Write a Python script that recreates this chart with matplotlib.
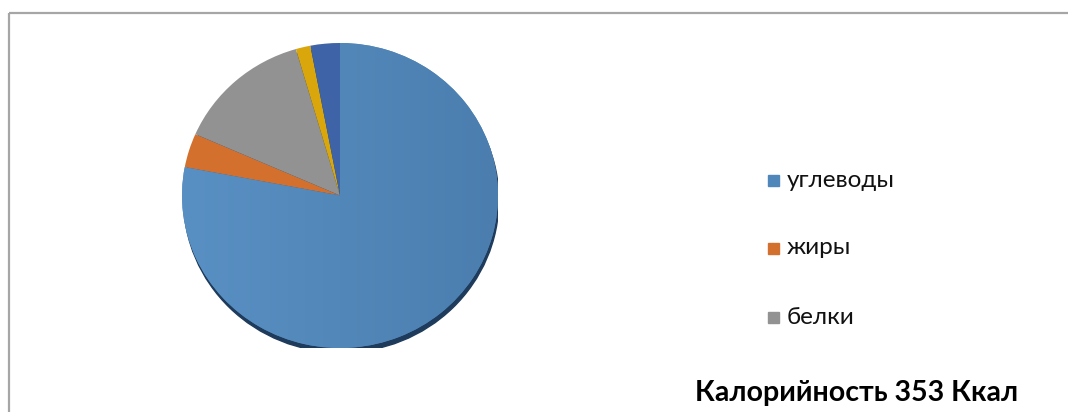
import matplotlib.pyplot as plt
import numpy as np
from matplotlib.patches import Ellipse, Rectangle

# composition of calories, percent of total (clockwise from 12 o'clock)
labels = ['углеводы', 'жиры', 'белки', '', '']
shares = [77.9, 3.6, 13.9, 1.5, 3.0]
colors = ['#4f87ba', '#d4702e', '#929292', '#d9a60c', '#3e63a6']
legend_count = 3
title = 'Калорийность 353 Ккал'

W, H = 1068, 412
fig = plt.figure(figsize=(W / 100, H / 100), dpi=100)

# background axes in pixel units for frame, legend and title
bg = fig.add_axes([0, 0, 1, 1])
bg.set_xlim(0, W)
bg.set_ylim(0, H)
bg.axis('off')

# chart frame (only top and left edges are visible)
bg.plot([8.5, 8.5], [0, H - 12.5], color='#a6a6a6', lw=1.6, solid_capstyle='butt')
bg.plot([8.5, W], [H - 12.5, H - 12.5], color='#a6a6a6', lw=1.6, solid_capstyle='butt')

# pie box: slightly flattened, as drawn in pixels
left, right, top, bottom = 182, 498, 43, 348
ax = fig.add_axes([left / W, 1 - bottom / H, (right - left) / W, (bottom - top) / H])

# drop shadow under the pie, shifted down and a bit to the right
ax.add_patch(Ellipse((0.008, -0.03), 1.995, 2, color='#1f3b5c', zorder=1))

wedges, _ = ax.pie(shares, colors=colors, startangle=90, counterclock=False,
                   radius=1, frame=True, wedgeprops=dict(linewidth=0, zorder=2))
ax.set_aspect('auto')
ax.axis('off')

# soft left-to-right shading on the big slice
grad = np.linspace(0, 1, 256).reshape(1, -1)
light = np.array([0x59, 0x90, 0xc3]) / 255
dark = np.array([0x4b, 0x7e, 0xaf]) / 255
img = light[None, None, :] * (1 - grad[..., None]) + dark[None, None, :] * grad[..., None]
im = ax.imshow(img, extent=[-1, 1, -1, 1], aspect='auto', zorder=3)
im.set_clip_path(wedges[0])
ax.set_xlim(-1, 1)
ax.set_ylim(-1, 1)

# legend
for i, y in enumerate([180, 248, 317][:legend_count]):
    bg.add_patch(Rectangle((768, H - y - 5.5), 11, 11, color=wedges[i].get_facecolor()))
    bg.text(787, H - y, labels[i], fontsize=17.5, family='Lato', va='center', ha='left',
            color='#111111')

bg.text(1018, H - 393, title, fontsize=20.5, family='Lato', fontweight='bold',
        va='center', ha='right', color='#000000')

fig.savefig('out.png', dpi=100)
